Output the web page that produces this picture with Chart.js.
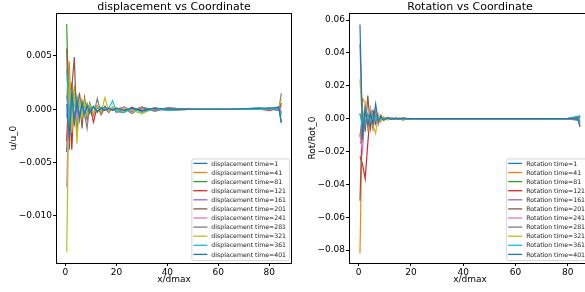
<!DOCTYPE html>
<html>
<head>
<meta charset="utf-8">
<script src="https://cdn.jsdelivr.net/npm/chart.js@4.4.1/dist/chart.umd.min.js"></script>
<style>
  html, body { margin: 0; padding: 0; background: #fff; overflow: hidden; }
  #wrap { position: relative; width: 585px; height: 292px; overflow: hidden; }
  canvas { position: absolute; top: 0; }
  #dispChart { left: 0; }
  #rotChart { left: 290px; }
</style>
</head>
<body>
<div id="wrap">
  <canvas id="dispChart" width="300" height="292"></canvas>
  <canvas id="rotChart" width="305" height="292"></canvas>
</div>
<script>
// x/dmax positions shared by every series
const xPos = [0.5, 1.5, 2.5, 3.5, 4.5, 5.5, 6.5, 7.5, 8.5, 9.5, 11, 12.5, 14, 15.5, 17, 18.5, 20, 23, 26, 30, 35, 40, 50, 65, 76, 80, 83.7, 84.7];
const timeSteps = [1, 41, 81, 121, 161, 201, 241, 281, 321, 361, 401];
const xTicks = [0, 20, 40, 60, 80];
const dispTicks = [-0.010, -0.005, 0.000, 0.005];
const rotTicks = [-0.08, -0.06, -0.04, -0.02, 0.00, 0.02, 0.04, 0.06];

// displacement u/u_0
const disp1   = [-0.0040, 0.0012, -0.0020, 0.0015, -0.0012, 0.0010, -0.0008, 0.0006, -0.0005, 0.0004, -0.0003, 0.0002, -0.0002, 0.0002, -0.0001, 0.0001, -0.0001, 0.0002, -0.0002, 0.0002, -0.0001, 0.0001, 0.0000, 0.0000, 0.0001, 0.0000, 0.0002, -0.0012];
const disp41  = [0.0010, 0.0045, -0.0024, 0.0022, -0.0015, 0.0015, -0.0010, 0.0008, -0.0006, 0.0005, -0.0004, 0.0003, -0.0002, 0.0002, -0.0002, 0.0001, -0.0001, 0.0002, -0.0001, 0.0002, -0.0001, 0.0001, 0.0000, 0.0000, 0.0000, 0.0001, -0.0001, 0.0005];
const disp81  = [0.0080, -0.0020, 0.0025, -0.0015, 0.0012, -0.0010, 0.0008, -0.0006, 0.0005, -0.0004, 0.0003, -0.0003, 0.0002, -0.0001, 0.0001, -0.0001, 0.0001, -0.0001, 0.0001, -0.0001, 0.0001, 0.0000, 0.0000, 0.0000, 0.0000, 0.0000, 0.0001, -0.0004];
const disp121 = [-0.0030, 0.0030, -0.0038, 0.0018, -0.0010, 0.0012, -0.0008, 0.0010, -0.0009, 0.0004, -0.0012, 0.0003, -0.0005, 0.0002, -0.0003, 0.0002, -0.0002, -0.0003, 0.0002, -0.0002, 0.0001, -0.0001, 0.0000, 0.0000, 0.0000, -0.0001, 0.0001, 0.0006];
const disp161 = [-0.0008, 0.0015, -0.0012, 0.0010, -0.0009, 0.0008, -0.0006, 0.0005, -0.0004, 0.0004, -0.0003, 0.0002, -0.0002, 0.0002, -0.0001, 0.0001, 0.0000, 0.0002, -0.0002, 0.0001, -0.0001, 0.0001, 0.0000, 0.0000, 0.0000, 0.0000, -0.0001, 0.0003];
const disp201 = [0.0057, -0.0038, 0.0020, 0.0049, -0.0025, 0.0015, -0.0018, 0.0010, -0.0008, 0.0006, -0.0004, 0.0003, -0.0002, 0.0002, -0.0001, 0.0001, -0.0001, 0.0001, -0.0001, 0.0001, 0.0000, 0.0000, 0.0000, 0.0000, 0.0000, 0.0000, 0.0001, -0.0003];
const disp241 = [-0.0073, 0.0020, -0.0015, 0.0012, -0.0010, 0.0008, -0.0007, 0.0005, -0.0005, 0.0003, -0.0003, 0.0003, -0.0002, 0.0001, -0.0001, 0.0001, 0.0000, 0.0002, -0.0001, 0.0001, -0.0001, 0.0000, 0.0000, 0.0000, 0.0000, 0.0000, 0.0002, -0.0002];
const disp281 = [0.0012, -0.0010, 0.0015, -0.0012, 0.0008, -0.0005, 0.0006, -0.0004, -0.0018, 0.0004, -0.0006, 0.0010, -0.0004, 0.0003, -0.0002, 0.0002, -0.0003, 0.0001, -0.0004, 0.0002, -0.0002, 0.0001, 0.0000, 0.0000, 0.0000, 0.0001, -0.0001, 0.0015];
const disp321 = [-0.0134, 0.0030, -0.0022, 0.0018, -0.0032, 0.0010, -0.0008, 0.0008, -0.0006, 0.0005, -0.0004, 0.0003, -0.0003, 0.0011, -0.0002, 0.0002, -0.0001, 0.0001, -0.0001, -0.0004, 0.0001, -0.0001, 0.0000, 0.0000, 0.0000, 0.0000, 0.0002, 0.0009];
const disp361 = [0.0037, -0.0015, 0.0018, -0.0010, 0.0012, -0.0008, 0.0006, -0.0005, 0.0005, -0.0003, 0.0003, -0.0002, 0.0002, -0.0001, 0.0001, 0.0008, -0.0002, -0.0003, 0.0001, -0.0003, 0.0001, -0.0001, 0.0000, 0.0000, 0.0000, 0.0000, 0.0001, -0.0006];
const disp401 = [0.0005, -0.0028, 0.0016, -0.0012, 0.0008, -0.0008, 0.0005, -0.0004, 0.0003, -0.0003, 0.0002, -0.0002, 0.0001, -0.0001, 0.0001, -0.0001, 0.0001, -0.0001, 0.0001, -0.0001, 0.0001, 0.0000, 0.0000, 0.0000, 0.0001, 0.0001, 0.0002, -0.0013];

// rotation Rot/Rot_0
const rot1   = [0.0030, -0.0030, 0.0040, -0.0030, 0.0020, -0.0020, 0.0015, -0.0010, 0.0008, -0.0006, 0.0004, -0.0003, 0.0002, -0.0001, 0.0001, 0.0000, 0.0000, 0.0000, 0.0000, 0.0000, 0.0000, 0.0000, 0.0000, 0.0000, 0.0000, 0.0000, 0.0005, 0.0020];
const rot41  = [-0.0820, 0.0120, 0.0100, -0.0050, 0.0060, -0.0040, 0.0030, -0.0020, 0.0015, -0.0010, 0.0008, -0.0005, 0.0003, -0.0002, 0.0001, -0.0001, 0.0000, 0.0000, 0.0000, 0.0000, 0.0000, 0.0000, 0.0000, 0.0000, 0.0000, 0.0000, -0.0005, 0.0010];
const rot81  = [-0.0150, -0.0130, 0.0060, -0.0040, 0.0050, -0.0030, 0.0020, -0.0020, 0.0012, -0.0008, 0.0005, -0.0003, 0.0002, -0.0001, 0.0001, 0.0000, 0.0000, 0.0000, 0.0000, 0.0000, 0.0000, 0.0000, 0.0000, 0.0000, 0.0000, 0.0000, 0.0005, -0.0015];
const rot121 = [-0.0230, -0.0280, -0.0365, -0.0150, 0.0050, -0.0060, 0.0040, -0.0030, 0.0020, -0.0010, 0.0006, -0.0004, 0.0002, -0.0001, 0.0001, 0.0000, 0.0000, 0.0000, 0.0000, 0.0000, 0.0000, 0.0000, 0.0000, 0.0000, 0.0000, 0.0000, 0.0005, -0.0045];
const rot161 = [0.0455, -0.0080, 0.0060, -0.0050, 0.0030, 0.0050, -0.0030, 0.0020, -0.0015, 0.0010, -0.0006, 0.0004, -0.0002, 0.0001, 0.0000, 0.0000, 0.0000, 0.0000, 0.0000, 0.0000, 0.0000, 0.0000, 0.0000, 0.0000, 0.0000, 0.0000, 0.0003, -0.0010];
const rot201 = [-0.0500, 0.0050, -0.0080, 0.0140, -0.0060, 0.0040, -0.0030, 0.0020, -0.0012, 0.0008, -0.0005, 0.0003, -0.0002, 0.0001, 0.0000, 0.0000, 0.0000, 0.0000, 0.0000, 0.0000, 0.0000, 0.0000, 0.0000, 0.0000, 0.0000, 0.0000, -0.0005, 0.0010];
const rot241 = [-0.0100, -0.0200, 0.0080, -0.0050, 0.0060, -0.0040, 0.0030, -0.0040, 0.0015, -0.0010, 0.0006, -0.0004, 0.0002, -0.0001, 0.0000, 0.0000, 0.0000, 0.0000, 0.0000, 0.0000, 0.0000, 0.0000, 0.0000, 0.0000, 0.0000, 0.0000, 0.0010, -0.0010];
const rot281 = [-0.0110, 0.0040, -0.0030, 0.0030, -0.0020, 0.0020, -0.0015, 0.0010, -0.0008, 0.0005, -0.0003, 0.0002, -0.0001, 0.0001, 0.0000, 0.0000, 0.0000, 0.0000, 0.0000, 0.0000, 0.0000, 0.0000, 0.0000, 0.0000, 0.0000, 0.0000, -0.0010, 0.0015];
const rot321 = [0.0240, -0.0050, 0.0080, -0.0060, 0.0050, -0.0040, -0.0090, 0.0030, -0.0020, 0.0010, -0.0008, 0.0005, -0.0003, 0.0002, -0.0012, 0.0002, 0.0000, 0.0000, 0.0000, 0.0000, 0.0000, 0.0000, 0.0000, 0.0000, 0.0000, 0.0000, 0.0010, -0.0030];
const rot361 = [0.0030, -0.0060, 0.0050, -0.0040, 0.0040, -0.0030, 0.0020, -0.0015, 0.0010, -0.0006, 0.0004, -0.0002, 0.0001, 0.0000, 0.0000, 0.0000, 0.0000, 0.0000, 0.0000, 0.0000, 0.0000, 0.0000, 0.0000, 0.0000, 0.0000, 0.0000, 0.0015, -0.0020];
const rot401 = [0.0573, -0.0120, 0.0060, -0.0040, 0.0030, -0.0030, 0.0090, -0.0020, 0.0015, -0.0008, 0.0005, -0.0003, 0.0002, -0.0001, 0.0001, 0.0000, 0.0000, 0.0000, 0.0000, 0.0000, 0.0000, 0.0000, 0.0000, 0.0000, 0.0000, 0.0000, 0.0005, -0.0050];

const dispSeries = [disp1, disp41, disp81, disp121, disp161, disp201, disp241, disp281, disp321, disp361, disp401];
const rotSeries = [rot1, rot41, rot81, rot121, rot161, rot201, rot241, rot281, rot321, rot361, rot401];

// matplotlib tab10 cycle
const colors = ['#1f77b4', '#ff7f0e', '#2ca02c', '#d62728', '#9467bd', '#8c564b', '#e377c2', '#7f7f7f', '#bcbd22', '#17becf', '#1f77b4'];

const FONT = '"DejaVu Sans", "Liberation Sans", sans-serif';

function fmtTick(v, dec) {
    const s = Math.abs(v).toFixed(dec);
    return (v < -1e-12 ? '\u2212' : '') + s;
}

// frame, title and legend inside the plot (matplotlib look)
const decor = {
    id: 'decor',
    afterDatasetsDraw(chart, args, opts) {
        const ctx = chart.ctx;
        const a = chart.chartArea;
        ctx.save();
        // frame
        ctx.strokeStyle = '#000';
        ctx.lineWidth = 1;
        ctx.strokeRect(Math.round(a.left) + 0.5, Math.round(a.top) + 0.5, Math.round(a.right - a.left) - 1, Math.round(a.bottom - a.top));
        // title
        ctx.fillStyle = '#000';
        ctx.font = '11px ' + FONT;
        ctx.textAlign = 'center';
        ctx.textBaseline = 'alphabetic';
        ctx.fillText(opts.title, (a.left + a.right) / 2, 10);
        // legend
        ctx.font = '6.2px ' + FONT;
        const labels = chart.data.datasets.map(d => d.label);
        const textW = Math.max(...labels.map(l => ctx.measureText(l).width));
        const rowH = 9.1;
        const w = 20 + textW + 3;
        const h = rowH * (labels.length - 1) + 10.6;
        const x0 = a.right - 3 - w;
        const y0 = a.bottom - 3 - h;
        ctx.fillStyle = 'rgba(255,255,255,0.8)';
        ctx.strokeStyle = '#cccccc';
        ctx.lineWidth = 0.8;
        ctx.beginPath();
        ctx.roundRect(x0 + 0.5, y0 + 0.5, w, h, 2);
        ctx.fill();
        ctx.stroke();
        ctx.textAlign = 'left';
        ctx.textBaseline = 'middle';
        chart.data.datasets.forEach((d, i) => {
            const yy = y0 + 5 + i * rowH;
            ctx.strokeStyle = d.borderColor;
            ctx.lineWidth = 1.3;
            ctx.beginPath();
            ctx.moveTo(x0 + 2, yy);
            ctx.lineTo(x0 + 16, yy);
            ctx.stroke();
            ctx.fillStyle = '#222';
            ctx.fillText(d.label, x0 + 20, yy + 0.5);
        });
        ctx.restore();
    }
};

function makeChart(id, cfg) {
    const datasets = cfg.series.map((vals, i) => ({
        label: cfg.name + ' time=' + timeSteps[i],
        data: vals.map((v, j) => ({x: xPos[j], y: v})),
        borderColor: colors[i],
        backgroundColor: colors[i],
        borderWidth: 1.2,
        pointRadius: 0,
        tension: 0,
        fill: false,
        order: cfg.series.length - i
    }));
    const tickGrid = {display: true, drawOnChartArea: false, drawTicks: true, tickLength: 3, color: '#000', lineWidth: 1};
    return new Chart(document.getElementById(id).getContext('2d'), {
        type: 'line',
        data: {datasets: datasets},
        options: {
            responsive: false,
            animation: false,
            events: [],
            layout: {padding: {top: 13, right: cfg.rightPad, bottom: 0, left: 0}},
            plugins: {
                legend: {display: false},
                tooltip: {enabled: false},
                decor: {title: cfg.title}
            },
            scales: {
                x: {
                    type: 'linear',
                    min: -3.7,
                    max: 88.9,
                    afterBuildTicks: s => { s.ticks = xTicks.map(v => ({value: v})); },
                    afterFit: s => { s.height = 29; },
                    grid: tickGrid,
                    border: {display: false},
                    ticks: {font: {family: FONT, size: 9}, color: '#000', padding: 1, maxRotation: 0, autoSkip: false,
                            callback: v => String(v)},
                    title: {display: true, text: 'x/dmax', font: {family: FONT, size: 9}, color: '#000', padding: {top: 0, bottom: 7}}
                },
                y: {
                    type: 'linear',
                    min: cfg.yMin,
                    max: cfg.yMax,
                    afterBuildTicks: s => { s.ticks = cfg.yTicks.map(v => ({value: v})); },
                    afterFit: s => { s.width = cfg.yWidth; },
                    grid: tickGrid,
                    border: {display: false},
                    ticks: {font: {family: FONT, size: 9}, color: '#000', padding: 1,
                            callback: v => fmtTick(v, cfg.dec)},
                    title: {display: true, text: cfg.yLabel, font: {family: FONT, size: 9}, color: '#000', padding: {top: cfg.yTitlePad, bottom: 0}}
                }
            }
        },
        plugins: [decor]
    });
}

makeChart('dispChart', {
    series: dispSeries, name: 'displacement', title: 'displacement vs Coordinate', yLabel: 'u/u_0',
    yMin: -0.01442, yMax: 0.00903, yTicks: dispTicks, dec: 3, yWidth: 56, yTitlePad: 8, rightPad: 8
});
makeChart('rotChart', {
    series: rotSeries, name: 'Rotation', title: 'Rotation vs Coordinate', yLabel: 'Rot/Rot_0',
    yMin: -0.0879, yMax: 0.0643, yTicks: rotTicks, dec: 2, yWidth: 59, yTitlePad: 17, rightPad: 4
});
</script>
</body>
</html>
